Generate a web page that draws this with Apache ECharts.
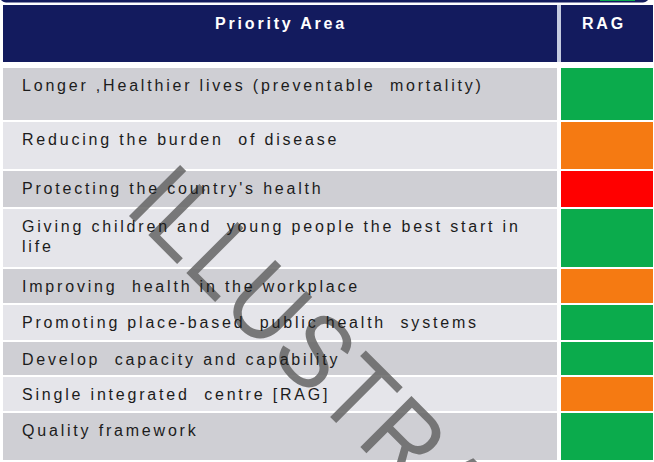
<!DOCTYPE html>
<html>
<head>
<meta charset="utf-8">
<script src="https://cdn.jsdelivr.net/npm/echarts@6/dist/echarts.min.js"></script>
<style>
html, body { margin: 0; padding: 0; background: #ffffff; }
#chart { width: 654px; height: 462px; }
#chart svg text { letter-spacing: 2.8px; white-space: pre; }
</style>
</head>
<body>
<div id="chart"></div>
<script>
// ---- data ----
const columnHeaders = ['Priority Area', 'RAG'];
const priorityAreas = [
  'Longer ,Healthier lives (preventable  mortality)',
  'Reducing the burden  of disease',
  "Protecting the country's health",
  'Giving children and  young people the best start in\nlife',
  'Improving  health in the workplace',
  'Promoting place-based  public health  systems',
  'Develop  capacity and capability',
  'Single integrated  centre [RAG]',
  'Quality framework'
];
const ragStatus = ['Green', 'Amber', 'Red', 'Green', 'Amber', 'Green', 'Green', 'Amber', 'Green'];
const watermarkText = 'ILLUSTRATIVE';

// ---- layout (not data) ----
const rowPitch = [54, 49, 38, 60, 36, 37, 35, 36, 49];
const ROW_GAP = 2;
const TABLE_WIDTH = 650;
const LEFT_COL = [0, 554];
const RIGHT_COL = [558, 650];
const RAG_COLORS = { Green: '#0bab4c', Amber: '#f57a12', Red: '#ff0000' };
const ROW_DARK = '#cfcfd4';
const ROW_LIGHT = '#e5e5ea';
const NAVY = '#131b5e';
const FONT = '"Liberation Sans", Arial, sans-serif';

const rowStarts = [];
let acc = 0;
rowPitch.forEach(p => { rowStarts.push(acc); acc += p; });
const totalHeight = acc;

const rowData = priorityAreas.map((name, i) => [rowStarts[i], rowPitch[i], i]);

function renderCells(params, api) {
  const i = api.value(2);
  const start = api.value(0), size = api.value(1);
  const top = api.coord([0, start])[1];
  const bottom = api.coord([0, start + size])[1] - ROW_GAP;
  const lx0 = api.coord([LEFT_COL[0], 0])[0];
  const lx1 = api.coord([LEFT_COL[1], 0])[0];
  const rx0 = api.coord([RIGHT_COL[0], 0])[0];
  const rx1 = api.coord([RIGHT_COL[1], 0])[0];
  return {
    type: 'group',
    children: [
      { type: 'rect', shape: { x: lx0, y: top, width: lx1 - lx0, height: bottom - top },
        style: { fill: i % 2 === 0 ? ROW_DARK : ROW_LIGHT } },
      { type: 'rect', shape: { x: rx0, y: top, width: rx1 - rx0, height: bottom - top },
        style: { fill: RAG_COLORS[ragStatus[i]] } }
    ]
  };
}

function renderLabels(params, api) {
  const i = api.value(2);
  const top = api.coord([0, api.value(0)])[1];
  const x = api.coord([LEFT_COL[0] + 19, 0])[0];
  return {
    type: 'text',
    x: x,
    y: top + 7,
    style: {
      text: priorityAreas[i],
      font: '16px ' + FONT,
      fill: '#1c1c1c',
      align: 'left',
      verticalAlign: 'top',
      lineHeight: 20
    }
  };
}

const chart = echarts.init(document.getElementById('chart'), null, { renderer: 'svg' });

const option = {
  animation: false,
  backgroundColor: '#ffffff',
  grid: { left: 3, right: 1, top: 68, bottom: 0 },
  xAxis: { type: 'value', min: 0, max: TABLE_WIDTH, show: false },
  yAxis: { type: 'value', min: 0, max: totalHeight, inverse: true, show: false },
  series: [
    { type: 'custom', z: 1, renderItem: renderCells, data: rowData, silent: true },
    { type: 'custom', z: 5, renderItem: renderLabels, data: rowData, silent: true }
  ],
  graphic: [
    // top rounded border strip
    { type: 'rect', z: 1, shape: { x: 0, y: -12, width: 649, height: 14.5, r: 6 }, style: { fill: NAVY } },
    { type: 'rect', z: 1, shape: { x: 600, y: -2, width: 35, height: 3 }, style: { fill: '#0bab4c' } },
    // header cells
    { type: 'rect', z: 1, shape: { x: 557, y: 5, width: 4, height: 57 }, style: { fill: '#c5cbe0' } },
    { type: 'rect', z: 1, shape: { x: 3, y: 5, width: 554, height: 57 }, style: { fill: NAVY } },
    { type: 'rect', z: 1, shape: { x: 561, y: 5, width: 92, height: 57 }, style: { fill: NAVY } },
    { type: 'text', z: 6, x: 281, y: 23,
      style: { text: columnHeaders[0], font: 'bold 16px ' + FONT, fill: '#ffffff', align: 'center', verticalAlign: 'middle' } },
    { type: 'text', z: 6, x: 604, y: 23,
      style: { text: columnHeaders[1], font: 'bold 16px ' + FONT, fill: '#ffffff', align: 'center', verticalAlign: 'middle' } },
    // watermark
    { type: 'text', z: 3, x: 149, y: 184, rotation: -Math.PI / 4, scaleX: 0.88,
      style: { text: watermarkText, font: '105px ' + FONT, fill: 'rgba(105,105,105,0.88)', align: 'left', verticalAlign: 'middle' } }
  ]
};
chart.setOption(option);
</script>
</body>
</html>
